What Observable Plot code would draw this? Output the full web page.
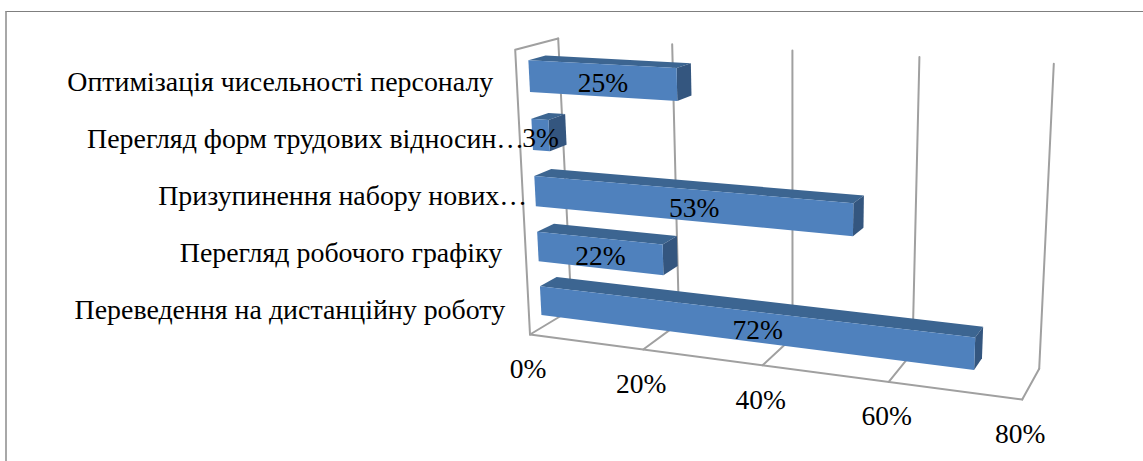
<!DOCTYPE html>
<html><head><meta charset="utf-8">
<script src="https://cdn.jsdelivr.net/npm/d3@7"></script>
<script src="https://cdn.jsdelivr.net/npm/@observablehq/plot@0.6"></script>
<style>
html,body{margin:0;padding:0;background:#fff;overflow:hidden}
#frame{position:absolute;left:5px;top:10.5px;width:1138px;height:451px;border-left:2px solid #a8a8a8;border-top:1.5px solid #7f7f7f;box-sizing:border-box}
#chart{position:absolute;left:0;top:0}
svg{display:block}
</style></head><body>
<div id="frame"></div><div id="chart"></div>
<script>
const categories = ["Переведення на дистанційну роботу","Перегляд робочого графіку","Призупинення набору нових…","Перегляд форм трудових відносин…","Оптимізація чисельності персоналу"];
const values = [72,22,53,3,25];
const ticks = [0,20,40,60,80];
const valueMax = 80;

// Camera: the picture's projected corners of the chart's box, floor (f) and top (t), front (a) and back (b)
const fa0=[529.5,334], fa1=[1021.7,399], fb0=[571,309], fb1=[1038.7,368.3];
const ta0=[514.7,49.3], ta1=[1035.7,74], tb0=[557.7,38], tb1=[1053.3,63.3];
const persV=-0.104, persH=-0.06;
const lerp=(a,b,t)=>[a[0]+(b[0]-a[0])*t,a[1]+(b[1]-a[1])*t];
const warp=(t,b)=>t*(1+b)/(1+b*t);
function project(v,h,d){
  const u=warp(v/valueMax,persV), g=warp(h,persH);
  const floor=lerp(lerp(fa0,fa1,u),lerp(fb0,fb1,u),d);
  const top=lerp(lerp(ta0,ta1,u),lerp(tb0,tb1,u),d);
  return lerp(floor,top,g);
}
const band=categories.length, d1=0.29, d2=0.69, barHalf=0.27;
const pt=(v,h,d)=>{const [px,py]=project(v,h,d);return {px,py};};

const grid=[
  ...ticks.map(t=>({id:"b"+t,pts:[[t,0,1],[t,1,1]]})),
  ...ticks.map(t=>({id:"f"+t,pts:[[t,0,0],[t,0,1]]})),
  {id:"axis",pts:[[0,0,0],[valueMax,0,0]]},
  {id:"wall",pts:[[0,0,0],[0,1,0],[0,1,1]]}
].flatMap(l=>l.pts.map(p=>({id:l.id,...pt(...p)})));

const faces=values.flatMap((v,i)=>{
  const h1=(i+.5-barHalf)/band,h2=(i+.5+barHalf)/band,id="bar"+i;
  const poly=(k,color,c)=>c.map(p=>({id:id+k,color,...pt(...p)}));
  return [
    poly("top","#3c6591",[[0,h2,d1],[v,h2,d1],[v,h2,d2],[0,h2,d2]]),
    poly("side","#34567f",[[v,h1,d1],[v,h2,d1],[v,h2,d2],[v,h1,d2]]),
    poly("front","#4f81bd",[[0,h1,d1],[v,h1,d1],[v,h2,d1],[0,h2,d1]])
  ].flat();
});

// Category labels are evenly spaced along the wall's front edge
const lab0=project(0,.5/band,0), lab1=project(0,(band-.5)/band,0);
const catRows=categories.map((c,i)=>{
  const [px,py]=lerp(lab0,lab1,i/(band-1));
  return {c,px,py};
});
// Value labels sit at the on-screen middle of each bar's front face
const valRows=values.map((v,i)=>{
  const h=(i+.5)/band;
  const [px,py]=lerp(project(0,h,d1),project(v,h,d1),.5);
  return {v,px,py};
});
const tickRows=ticks.map(t=>({t,...pt(t,0,0)}));
const font={fontFamily:"'Liberation Serif'",fill:"#000",fontSize:27.5};
const catFont={...font,fontSize:27.9};
const whole=categories.filter(c=>!c.endsWith("…")), cut=categories.filter(c=>c.endsWith("…"));

document.getElementById("chart").append(Plot.plot({
  width:1143,height:461,margin:0,
  x:{domain:[0,1143],range:[0,1143],axis:null},
  y:{domain:[0,461],range:[0,461],axis:null},
  style:{background:"transparent"},
  marks:[
    Plot.line(grid,{x:"px",y:"py",z:"id",stroke:"#a0a0a0",strokeWidth:2,curve:"linear"}),
    Plot.line(faces,{x:"px",y:"py",z:"id",fill:"color",stroke:null,curve:"linear"}),
    Plot.text(catRows.filter(d=>whole.includes(d.c)),{x:"px",y:"py",text:"c",textAnchor:"end",dx:-23.5,dy:2,...catFont}),
    Plot.text(catRows.filter(d=>cut.includes(d.c)),{x:"px",y:"py",text:"c",textAnchor:"end",dx:4.5,dy:2,...catFont}),
    Plot.text(valRows,{x:"px",y:"py",text:d=>d.v+"%",dy:3,...font}),
    Plot.text(tickRows,{x:"px",y:"py",text:d=>d.t+"%",dx:-2,dy:34.5,...font})
  ]
}));
</script></body></html>
